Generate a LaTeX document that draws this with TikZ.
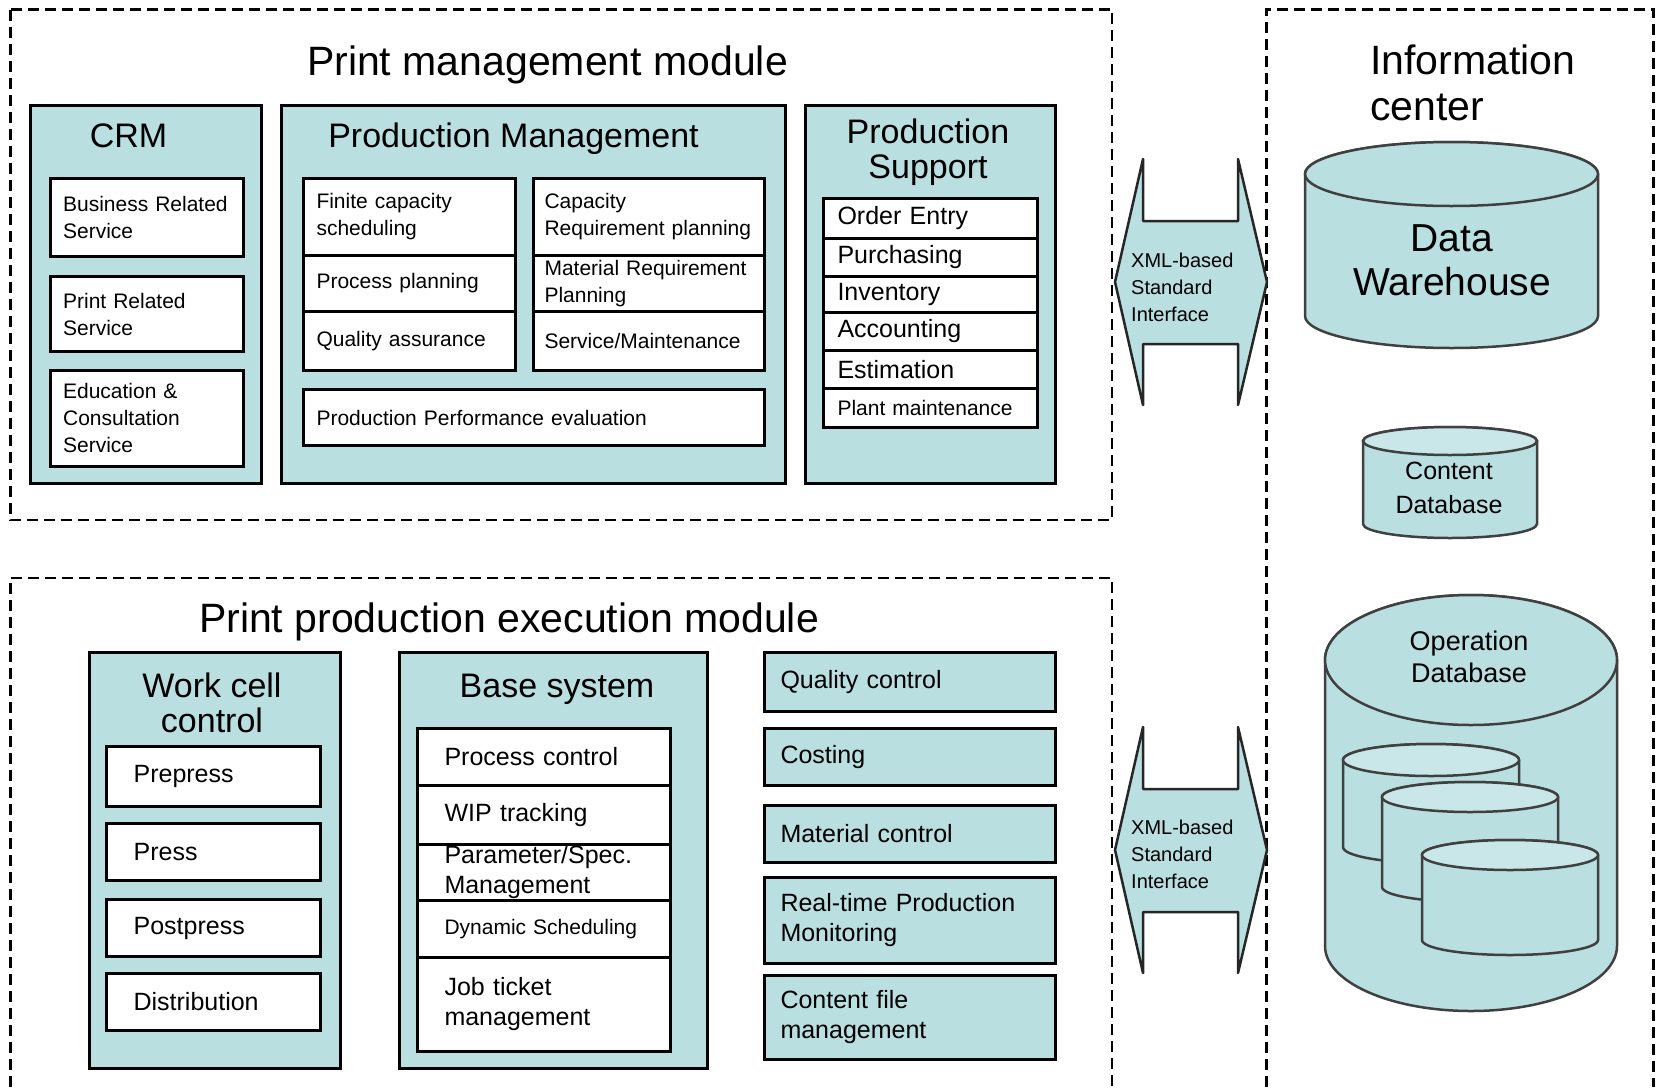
\documentclass[tikz,border=0pt]{standalone}
\usepackage{fontspec}
\setmainfont{Liberation Sans}

\definecolor{boxblue}{RGB}{185,223,225}
\definecolor{topblue}{RGB}{201,231,233}

\newcommand\ttlfont{\fontsize{41}{46}\selectfont}
\newcommand\hdfont{\fontsize{34}{35}\selectfont}
\newcommand\itmfont{\fontsize{25}{30}\selectfont}
\newcommand\smlfont{\fontsize{21}{27}\selectfont}
\newcommand\xmlfont{\fontsize{20}{27}\selectfont}
\newcommand\dwfont{\fontsize{39}{44.5}\selectfont}
\newcommand\dbfont{\fontsize{25}{34}\selectfont}
\newcommand\opfont{\fontsize{27}{32}\selectfont}

% double headed interface arrow, centred at (#1,#2)
\def\xmlarrow(#1,#2){\draw[xmlshape] (#1-76,#2) -- (#1-48,#2-123) -- (#1-48,#2-61) -- (#1+47,#2-61) -- (#1+47,#2-123) -- (#1+76,#2) -- (#1+47,#2+123) -- (#1+47,#2+62) -- (#1-48,#2+62) -- (#1-48,#2+123) -- cycle;}
% database cylinder: [top fill](cx,top cy)(rx:ry:height)
\def\dbcyl[#1](#2,#3)(#4:#5:#6){\filldraw[dbline, fill=boxblue] (#2-#4,#3) -- (#2-#4,#3+#6) arc (180:0:#4 and #5) -- (#2+#4,#3) arc (0:-180:#4 and #5) -- cycle;
	\filldraw[dbline, fill=#1] (#2,#3) ellipse (#4 and #5);}

\tikzset{
	modframe/.style={line width=2.5pt, dash pattern=on 11pt off 6pt},
	grp/.style={draw, line width=3pt, fill=boxblue, anchor=north west, inner sep=0pt},
	cell/.style={draw, line width=3pt, fill=white, anchor=north west, inner ysep=0pt, align=left},
	crmcell/.style={cell, font=\smlfont, minimum width=193pt, text width=167pt, inner xsep=13pt},
	pmcell/.style={cell, font=\smlfont, minimum width=212pt, text width=186pt, inner xsep=13pt},
	pmcellr/.style={cell, font=\smlfont, minimum width=231pt, text width=209pt, inner xsep=11pt},
	pscell/.style={cell, font=\itmfont, minimum width=214pt, text width=186pt, inner xsep=14pt},
	wccell/.style={cell, font=\itmfont, minimum width=214pt, text width=159pt, inner xsep=27.5pt},
	bscell/.style={cell, font=\itmfont, minimum width=252.6pt, text width=198.6pt, inner xsep=27pt},
	rtcell/.style={cell, fill=boxblue, font=\itmfont, minimum width=291pt, text width=259pt, inner xsep=16pt},
	hdr/.style={font=\hdfont, inner sep=0pt, align=center},
	ttl/.style={font=\ttlfont, inner sep=0pt},
	xmlshape/.style={draw=black!85, fill=boxblue, line width=2.5pt, line join=round},
	xmltxt/.style={font=\xmlfont, align=left, anchor=north west, inner sep=0pt},
	dbline/.style={draw=black!75, line width=2.5pt},
}

\begin{document}
\begin{tikzpicture}[x=1pt, y=-1pt]
	\useasboundingbox (0,0) rectangle (1656,1087);
	\fill[white] (0,0) rectangle (1656,1087);
	
	%%%%% frames %%%%%
	\draw[modframe] (10.4,9.5) rectangle (1112,520);
	\draw[modframe] (10.4,1087) |- (1112,578) -- (1112,1087);
	\draw[modframe] (1266.6,1087) |- (1653.5,9.5) -- (1653.5,1087);
	
	%%%%% print management module %%%%%
	\node[ttl, anchor=base] (pmm) at (547.5,75) {Print management module};
	
	\node[grp, minimum width=231.5pt, minimum height=378pt] (crm) at (28.5,104) {};
	\node[grp, minimum width=503.6pt, minimum height=378pt] (pm) at (280,104) {};
	\node[grp, minimum width=250pt, minimum height=378pt] (ps) at (804,104) {};
	
	\node[hdr, anchor=base] (crmttl) at (128.6,147) {CRM};
	\node[hdr, anchor=base] (pmttl) at (513.5,147) {Production Management};
	\node[hdr, anchor=north] (psttl) at (928,118.5) {Production\\Support};
	
	\node[crmcell, minimum height=77.5pt] (bizsvc) at (48.6,177) {Business Related\\Service};
	\node[crmcell, minimum height=75pt] (prtsvc) at (48.6,275) {Print Related\\Service};
	\node[crmcell, minimum height=95.5pt] (edusvc) at (48.6,369) {Education \&\\Consultation\\Service};
	
	\node[pmcell, minimum height=77pt] (fcs) at (302,177) {Finite capacity\\scheduling};
	\node[pmcell, minimum height=56pt] (procplan) at (302,254) {Process planning};
	\node[pmcell, minimum height=59pt] (qa) at (302,310) {Quality assurance};
	\node[pmcellr, minimum height=77pt] (crp) at (532,177) {Capacity\\Requirement planning};
	\node[pmcellr, minimum height=56pt] (mrp) at (532,254) {Material Requirement\\Planning};
	\node[pmcellr, minimum height=59pt] (svcmaint) at (532,310) {Service/Maintenance};
	\node[pmcell, minimum width=461pt, text width=435pt, minimum height=56pt] (ppe) at (302,388) {Production Performance evaluation};
	
	\node[pscell, minimum height=40pt] (order) at (822,197) {Order Entry};
	\node[pscell, minimum height=38pt] (purch) at (822,237) {Purchasing};
	\node[pscell, minimum height=36pt] (inv) at (822,275) {Inventory};
	\node[pscell, minimum height=38pt] (acct) at (822,311) {Accounting};
	\node[pscell, minimum height=38pt] (estim) at (822,349) {Estimation};
	\node[pscell, font=\smlfont, minimum height=39pt] (plant) at (822,387) {Plant maintenance};
	
	%%%%% print production execution module %%%%%
	\node[ttl, anchor=base] (ppem) at (509,632) {Print production execution module};
	
	\node[grp, minimum width=251.3pt, minimum height=416pt] (wcc) at (87.7,651) {};
	\node[grp, minimum width=307.5pt, minimum height=416pt] (bsys) at (398,651) {};
	
	\node[hdr, anchor=north] (wccttl) at (212,672.7) {Work cell\\control};
	\node[hdr, anchor=base] (bsysttl) at (557,697) {Base system};
	
	\node[wccell, minimum height=60pt] (prepress) at (104.6,745) {Prepress};
	\node[wccell, minimum height=57pt] (press) at (104.6,822) {Press};
	\node[wccell, minimum height=57pt] (postpress) at (104.6,898) {Postpress};
	\node[wccell, minimum height=57pt] (distrib) at (104.6,972) {Distribution};
	
	\node[bscell, minimum height=57pt] (procctl) at (416,727) {Process control};
	\node[bscell, minimum height=59pt] (wip) at (416,784) {WIP tracking};
	\node[bscell, minimum height=56pt] (param) at (416,843) {Parameter/Spec.\\Management};
	\node[bscell, font=\smlfont, minimum height=57pt] (dynsch) at (416,899) {Dynamic Scheduling};
	\node[bscell, minimum height=94pt] (jobtkt) at (416,956) {Job ticket\\management};
	
	\node[rtcell, minimum height=59pt] (qc) at (763,651) {Quality control};
	\node[rtcell, minimum height=57pt] (cost) at (763,727) {Costing};
	\node[rtcell, minimum height=57pt] (matctl) at (763,804) {Material control};
	\node[rtcell, minimum height=86pt] (rtpm) at (763,876) {Real-time Production\\Monitoring};
	\node[rtcell, minimum height=84pt] (cfm) at (763,974) {Content file\\management};
	
	%%%%% interfaces %%%%%
	\xmlarrow(1191,282)
	\node[xmltxt] (xmltop) at (1131,252.5) {XML-based\\Standard\\Interface};
	\xmlarrow(1191,850)
	\node[xmltxt] (xmlbot) at (1131,819.6) {XML-based\\Standard\\Interface};
	
	%%%%% information center %%%%%
	\node[ttl, anchor=north west, align=left] (infottl) at (1370,45) {Information\\center};
	
	\dbcyl[boxblue](1451.5,174)(146.5:32:142)
	\dbcyl[topblue](1450,441)(87:14:83)
	\dbcyl[boxblue](1471,660)(146:65:286)
	\dbcyl[topblue](1431,760)(88:16:87)
	\dbcyl[topblue](1470,797)(88:15:90)
	\dbcyl[topblue](1510,855)(88:15:85)
	
	\node[font=\dwfont, align=center, inner sep=0pt, anchor=north] (dwtxt) at (1452,224) {Data\\Warehouse};
	\node[font=\dbfont, align=center, inner sep=0pt, anchor=north] (cdbtxt) at (1449,462) {Content\\Database};
	\node[font=\opfont, align=center, inner sep=0pt, anchor=north] (opdbtxt) at (1469,631) {Operation\\Database};
\end{tikzpicture}
\end{document}
